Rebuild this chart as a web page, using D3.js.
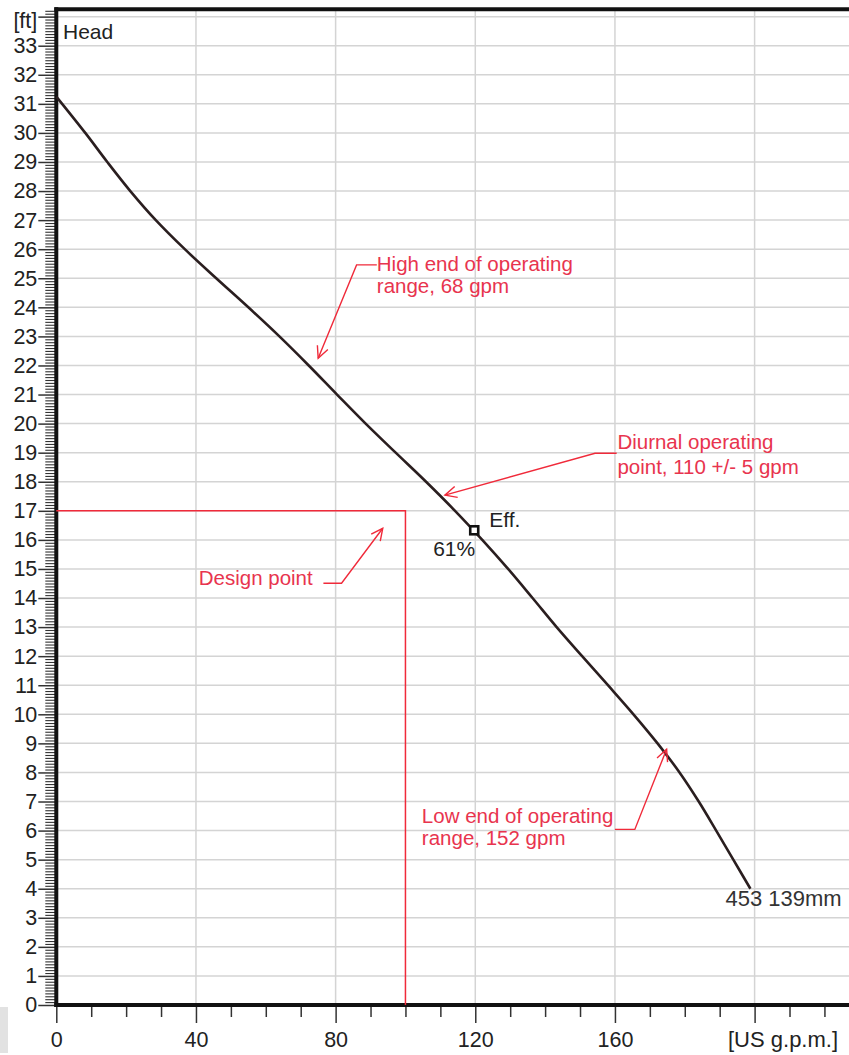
<!DOCTYPE html>
<html>
<head>
<meta charset="utf-8">
<script src="https://cdn.jsdelivr.net/npm/d3@7/dist/d3.min.js"></script>
<style>
  html, body { margin: 0; padding: 0; background: #fff; }
  svg { display: block; font-family: "Liberation Sans", Arial, sans-serif; }
</style>
</head>
<body>
<script>
// ---------------- DATA ----------------
// Pump head curve (US gpm vs ft)
const flowGpm = [0, 8.3, 14.6, 21.2, 28.5, 36.8, 45.8, 55.0, 63.9, 72.3, 80.4, 88.6, 97.2, 105.9, 114.2, 122.0, 129.4, 136.4, 143.3, 150.6, 158.0, 165.3, 172.2, 178.5, 184.0, 189.0, 193.9, 198.8];
const headFt  = [31.25, 30, 29, 28, 27, 26, 25, 24, 23, 22, 21, 20, 19, 18, 17, 16, 15, 14, 13, 12, 11, 10, 9, 8, 7, 6, 5, 4.0];

// Best efficiency point
const effPoint = [119.7, 16.33];
const effLabel = "61%";
const curveLabel = "453 139mm";

// Design point
const designFlow = 100;
const designHead = 17;

// Tick labels
const yTickValues = d3.range(0, 34);           // 0..33
const yUnitLabel = "[ft]";
const xTickValues = [0, 40, 80, 120, 160];
const xUnitLabel = "[US g.p.m.]";
const xGridValues = [40, 80, 120, 160, 200];

// Annotations (text lines + leader in data units: start, bend, tip)
const annTexts = [
  ["High end of operating", "range, 68 gpm"],
  ["Diurnal operating", "point, 110 +/- 5 gpm"],
  ["Design point"],
  ["Low end of operating", "range, 152 gpm"]
];
const annTextAt = [[91.8, 25.25], [160.7, 19.12], [40.8, 14.45], [104.7, 6.25]];
const annLeader = [
  [[91.8, 25.46], [86.0, 25.46], [75.0, 22.25]],
  [[160.5, 18.98], [154.3, 18.98], [111.3, 17.54]],
  [[76.5, 14.51], [81.7, 14.51], [93.5, 16.40]],
  [[160.0, 6.04], [165.7, 6.04], [174.8, 8.80]]
];
const annLineGap = [22.3, 25, 0, 22];

// ---------------- LAYOUT ----------------
const W = 849, H = 1055;
const x = d3.scaleLinear().domain([0, 200]).range([56.3, 754.6]);
const y = d3.scaleLinear().domain([0, 33]).range([1005, 45.7]);
const xMax = x.invert(W + 2);
const yTop = 34.25;
const FONT = "Liberation Sans, Arial, sans-serif";

const svg = d3.select("body").append("svg")
  .attr("width", W).attr("height", H);
svg.append("rect").attr("width", W).attr("height", H).attr("fill", "#fff");

// crop artifact bottom-left
svg.append("rect").attr("x", 0).attr("y", 1007).attr("width", 8).attr("height", 46).attr("fill", "#e2e2e2");

// grid
const grid = svg.append("g").attr("stroke", "#d4d4d4").attr("stroke-width", 1.5);
grid.selectAll(".hg").data(d3.range(1, 35)).join("line")
  .attr("x1", x(0)).attr("x2", W)
  .attr("y1", d => y(d)).attr("y2", d => y(d));
grid.selectAll(".vg").data(xGridValues).join("line")
  .attr("x1", d => x(d)).attr("x2", d => x(d))
  .attr("y1", y(yTop)).attr("y2", y(0));

// Y axis minor + major ticks
const yMinor = d3.range(0, yTop + 0.001, 0.1).map(v => +v.toFixed(2)).filter(v => Math.abs(v - Math.round(v)) > 0.01);
const yMinorAxis = d3.axisLeft(y).tickValues(yMinor).tickSize(11).tickFormat("");
const gyMinor = svg.append("g").attr("transform", `translate(${x(0)},0)`).call(yMinorAxis);
gyMinor.select(".domain").remove();
gyMinor.selectAll("line").attr("stroke", "#333").attr("stroke-width", 1.1);

const yMajorAxis = d3.axisLeft(y).tickValues(yTickValues.concat([34])).tickSize(18).tickPadding(1)
  .tickFormat(d => d === 34 ? yUnitLabel : d);
const gy = svg.append("g").attr("transform", `translate(${x(0)},0)`).call(yMajorAxis);
gy.select(".domain").remove();
gy.selectAll("line").attr("stroke", "#333").attr("stroke-width", 1.5);
gy.selectAll("text").attr("font-size", 21.5).attr("fill", "#222").attr("font-family", FONT);
gy.selectAll(".tick").filter(d => d === 34).select("text").attr("dy", "0.5em");

// X axis minor + major ticks
const xMinor = d3.range(0, xMax, 10).filter(v => v % 40 !== 0);
const xMinorAxis = d3.axisBottom(x).tickValues(xMinor).tickSize(12).tickFormat("");
const gxMinor = svg.append("g").attr("transform", `translate(0,${y(0)})`).call(xMinorAxis);
gxMinor.select(".domain").remove();
gxMinor.selectAll("line").attr("stroke", "#333").attr("stroke-width", 1.5);

const xMajorAxis = d3.axisBottom(x).tickValues(xTickValues.concat([200])).tickSize(18).tickPadding(9)
  .tickFormat(d => d === 200 ? "" : d);
const gx = svg.append("g").attr("transform", `translate(0,${y(0)})`).call(xMajorAxis);
gx.select(".domain").remove();
gx.selectAll("line").attr("stroke", "#333").attr("stroke-width", 1.5);
gx.selectAll("text").attr("font-size", 21.5).attr("fill", "#222").attr("font-family", FONT);

svg.append("text").attr("x", 728).attr("y", 1047).attr("font-size", 22).attr("fill", "#222")
  .text(xUnitLabel);

// frame lines
const frame = svg.append("g").attr("stroke", "#111").attr("stroke-width", 4).attr("fill", "none");
frame.append("line").attr("x1", x(0)).attr("x2", x(0)).attr("y1", y(yTop) - 2).attr("y2", y(0) + 2);
frame.append("line").attr("x1", x(0) - 2).attr("x2", W).attr("y1", y(0)).attr("y2", y(0));
frame.append("line").attr("x1", x(0) - 2).attr("x2", W).attr("y1", y(yTop)).attr("y2", y(yTop));

svg.append("text").attr("x", 63).attr("y", 39).attr("font-size", 21).attr("fill", "#222").text("Head");

// design point lines
const red = "#f02a3a";
const redText = "#e8344e";
svg.append("path")
  .attr("d", d3.line()([[x(0), y(designHead)], [x(designFlow), y(designHead)], [x(designFlow), y(0)]]))
  .attr("fill", "none").attr("stroke", red).attr("stroke-width", 1.5);

// head curve
const curvePts = flowGpm.map((f, i) => [f, headFt[i]]);
svg.append("path")
  .datum(curvePts)
  .attr("d", d3.line().x(d => x(d[0])).y(d => y(d[1])).curve(d3.curveCatmullRom.alpha(0.5)))
  .attr("fill", "none").attr("stroke", "#2a1e1f").attr("stroke-width", 2.6);

// efficiency marker
svg.append("rect")
  .attr("x", x(effPoint[0]) - 4).attr("y", y(effPoint[1]) - 4)
  .attr("width", 8).attr("height", 8)
  .attr("fill", "#fff").attr("stroke", "#111").attr("stroke-width", 2.6);
svg.append("text").attr("x", x(effPoint[0]) + 15).attr("y", y(effPoint[1]) - 3)
  .attr("font-size", 21).attr("fill", "#222").text("Eff.");
svg.append("text").attr("x", x(effPoint[0]) + 1).attr("y", y(effPoint[1]) + 26)
  .attr("text-anchor", "end").attr("font-size", 21).attr("fill", "#222").text(effLabel);

// curve end label
const endPt = curvePts[curvePts.length - 1];
svg.append("text").attr("x", x(endPt[0]) - 25).attr("y", y(endPt[1]) + 17)
  .attr("font-size", 22).attr("fill", "#333").text(curveLabel);

// annotations
annTexts.forEach((lines, i) => {
  const g = svg.append("g");
  const pts = annLeader[i].map(p => [x(p[0]), y(p[1])]);
  g.append("path").attr("d", d3.line()(pts))
    .attr("fill", "none").attr("stroke", red).attr("stroke-width", 1.4);
  // open arrowhead at tip
  const tip = pts[2], prev = pts[1];
  const ang = Math.atan2(prev[1] - tip[1], prev[0] - tip[0]);
  const L = 13, a = 0.45;
  const h1 = [tip[0] + L * Math.cos(ang + a), tip[1] + L * Math.sin(ang + a)];
  const h2 = [tip[0] + L * Math.cos(ang - a), tip[1] + L * Math.sin(ang - a)];
  g.append("path").attr("d", d3.line()([h1, tip, h2]))
    .attr("fill", "none").attr("stroke", red).attr("stroke-width", 1.4);
  const t = g.append("text")
    .attr("x", x(annTextAt[i][0])).attr("y", y(annTextAt[i][1]))
    .attr("font-size", 20.5).attr("fill", redText);
  lines.forEach((ln, j) => {
    t.append("tspan").attr("x", x(annTextAt[i][0])).attr("dy", j === 0 ? 0 : annLineGap[i]).text(ln);
  });
});
</script>
</body>
</html>
